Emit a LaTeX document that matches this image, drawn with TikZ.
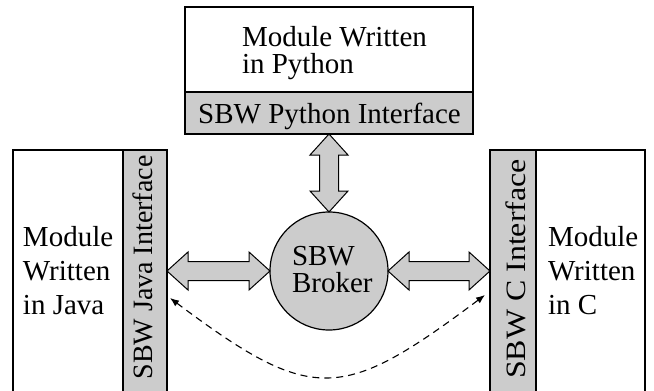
\documentclass[tikz,border=0pt]{standalone}
\usepackage{fontspec}
\setmainfont{Liberation Serif}
\usetikzlibrary{arrows.meta,calc}
\definecolor{ifacegray}{gray}{0.8}

% hollow double-headed block arrows between two anchors
% horizontal: first anchor on the left, second on the right
\newcommand\fatharrow[2]{%
  \path[fatarrow] let \p1=(#1), \p2=(#2) in
    (\x1,\y1) -- (\x1+21pt,\y1+19pt) -- (\x1+21pt,\y1+9.5pt) -- (\x2-21pt,\y2+9.5pt)
    -- (\x2-21pt,\y2+19pt) -- (\x2,\y2) -- (\x2-21pt,\y2-19pt) -- (\x2-21pt,\y2-9.5pt)
    -- (\x1+21pt,\y1-9.5pt) -- (\x1+21pt,\y1-19pt) -- cycle;}
% vertical: first anchor below, second above
\newcommand\fatvarrow[2]{%
  \path[fatarrow] let \p1=(#1), \p2=(#2) in
    (\x1,\y1) -- (\x1+19pt,\y1+21pt) -- (\x1+9.5pt,\y1+21pt) -- (\x2+9.5pt,\y2-21pt)
    -- (\x2+19pt,\y2-21pt) -- (\x2,\y2) -- (\x2-19pt,\y2-21pt) -- (\x2-9.5pt,\y2-21pt)
    -- (\x1-9.5pt,\y1+21pt) -- (\x1-19pt,\y1+21pt) -- cycle;}

\begin{document}
\begin{tikzpicture}[x=1pt,y=-1pt,line width=1.2pt,
  every node/.style={inner sep=0pt,outer sep=0pt},
  label29/.style={font=\fontsize{29}{27}\selectfont,anchor=base west},
  vlabel/.style={font=\fontsize{28}{28}\selectfont,anchor=base,rotate=90},
  modbox/.style={draw,fill=white,anchor=north west},
  ifband/.style={draw,fill=ifacegray,anchor=north west},
  fatarrow/.style={draw,fill=ifacegray,line width=1pt,line join=miter},
  callpath/.style={line width=1.1pt,dash pattern=on 7pt off 5pt,
    {Latex[length=9pt,width=7pt]}-{Latex[length=9pt,width=7pt]}}]
\useasboundingbox (0,0) rectangle (654,391);
\clip (0,0) rectangle (654,391);

% Python module on top
\node[modbox,minimum width=288pt,minimum height=127pt] (pymod) at (185,7) {};
\node[ifband,minimum width=288pt,minimum height=42pt] (pyif) at (185,92) {};
\node[label29] (pyt1) at (242,46) {Module Written};
\node[label29] (pyt2) at (242,73) {in Python};
\node[font=\fontsize{29}{27}\selectfont,anchor=base] (pyift) at (329.5,123) {SBW Python Interface};

% Java module on the left
\node[modbox,minimum width=154pt,minimum height=260pt] (javamod) at (13,150) {};
\node[ifband,minimum width=44pt,minimum height=260pt] (javaif) at (123,150) {};
\node[label29] (jt1) at (23,246) {Module};
\node[label29] (jt2) at (23,280) {Written};
\node[label29] (jt3) at (23,314) {in Java};
\node[vlabel] (javaift) at (152,267.5) {SBW Java Interface};

% C module on the right
\node[modbox,minimum width=155pt,minimum height=260pt] (cmod) at (490,150) {};
\node[ifband,minimum width=46pt,minimum height=260pt] (cif) at (490,150) {};
\node[label29] (ct1) at (548,246) {Module};
\node[label29] (ct2) at (548,280) {Written};
\node[label29] (ct3) at (548,314) {in C};
\node[vlabel] (cift) at (525,269) {\scalebox{1.14}[1]{SBW C Interface}};

% broker
\node[circle,draw,fill=ifacegray,minimum size=118pt] (broker) at (329,271) {};
\node[label29] (bt1) at (292,265) {SBW};
\node[label29] (bt2) at (292,292) {Broker};

% block arrows to the broker
\fatharrow{javaif.east |- broker.west}{broker.west}
\fatharrow{broker.east}{cif.west |- broker.east}
\fatvarrow{broker.north}{pyif.south}

% direct call between the Java and C interfaces
\coordinate (dl) at (170,298);
\coordinate (dr) at (485,295);
\draw[callpath] (dl) .. controls (313,405) and (342,402) .. (dr);
\end{tikzpicture}
\end{document}
